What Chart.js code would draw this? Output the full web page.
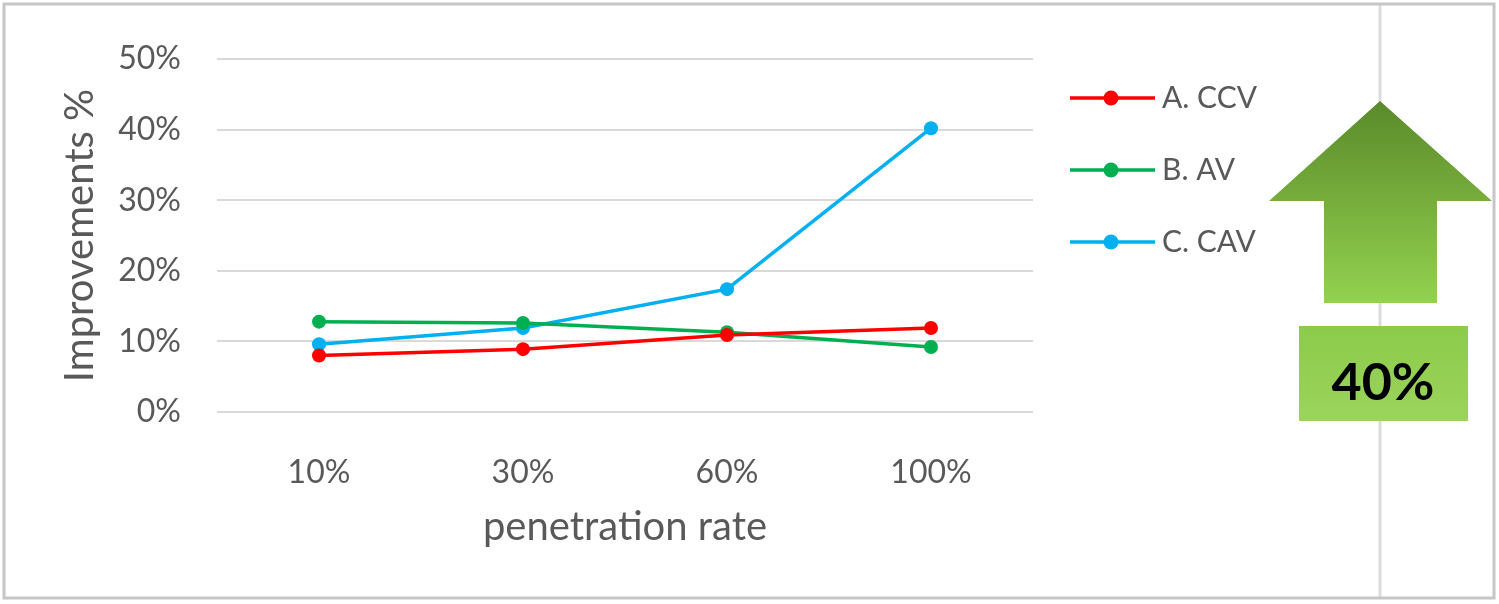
<!DOCTYPE html>
<html>
<head>
<meta charset="utf-8">
<script src="https://cdn.jsdelivr.net/npm/chart.js@4.4.0/dist/chart.umd.min.js"></script>
<style>
  body { margin: 0; background: #fff; }
  canvas { display: block; }
</style>
</head>
<body>
<canvas id="grafico" width="1499" height="604"></canvas>
<script>
// datos
const categorias = ['10%', '30%', '60%', '100%'];
const serieCCV = [8.0, 8.9, 10.9, 11.9];
const serieAV = [12.8, 12.6, 11.3, 9.2];
const serieCAV = [9.6, 11.9, 17.4, 40.2];
const nombresSeries = ['A. CCV', 'B. AV', 'C. CAV'];
const coloresSeries = ['#ff0000', '#00b050', '#00b0f0'];
const ticksY = ['0%', '10%', '20%', '30%', '40%', '50%'];
const textoMejora = '40%';

const fuente = 'Lato, "Open Sans", sans-serif';
const gris = '#595959';

function armarSerie(nombre, datos, color){
    return {
        label: nombre,
        data: datos,
        borderColor: color,
        backgroundColor: color,
        borderWidth: 3.5,
        pointRadius: 7,
        pointHoverRadius: 7,
        pointBorderWidth: 0,
        tension: 0
    };
}

// marco, linea vertical, leyenda y flecha
const decoracion = {
    id: 'decoracion',
    beforeDraw(chart){
        const ctx = chart.ctx;
        ctx.save();
        ctx.fillStyle = '#fff';
        ctx.fillRect(0, 0, chart.width, chart.height);
        ctx.strokeStyle = '#dcdcdc';
        ctx.lineWidth = 3;
        ctx.beginPath();
        ctx.moveTo(1380, 5);
        ctx.lineTo(1380, 597);
        ctx.stroke();
        ctx.strokeStyle = '#c6c6c6';
        ctx.lineWidth = 3;
        ctx.strokeRect(4, 4, 1490, 594);
        ctx.restore();
    },
    afterDraw(chart){
        const ctx = chart.ctx;
        ctx.save();
        // leyenda
        chart.data.datasets.forEach((ds, i) => {
            const y = 98 + i * 72;
            ctx.strokeStyle = ds.borderColor;
            ctx.lineWidth = 3.5;
            ctx.beginPath();
            ctx.moveTo(1070, y);
            ctx.lineTo(1155, y);
            ctx.stroke();
            ctx.fillStyle = ds.borderColor;
            ctx.beginPath();
            ctx.arc(1111, y, 7.5, 0, Math.PI * 2);
            ctx.fill();
            ctx.fillStyle = gris;
            ctx.font = '30px ' + fuente;
            ctx.textBaseline = 'middle';
            ctx.textAlign = 'left';
            ctx.fillText(ds.label, 1162, y);
        });
        // flecha
        const grad = ctx.createLinearGradient(0, 101, 0, 303);
        grad.addColorStop(0, '#5a8a2a');
        grad.addColorStop(1, '#93d24f');
        ctx.fillStyle = grad;
        ctx.beginPath();
        ctx.moveTo(1380, 101);
        ctx.lineTo(1492, 201);
        ctx.lineTo(1437, 201);
        ctx.lineTo(1437, 303);
        ctx.lineTo(1324, 303);
        ctx.lineTo(1324, 201);
        ctx.lineTo(1269, 201);
        ctx.closePath();
        ctx.fill();
        // caja
        const gradCaja = ctx.createLinearGradient(0, 326, 0, 421);
        gradCaja.addColorStop(0, '#8ccb4a');
        gradCaja.addColorStop(1, '#9bd45c');
        ctx.fillStyle = gradCaja;
        ctx.fillRect(1299, 326, 169, 95);
        ctx.fillStyle = '#000';
        ctx.font = 'bold 52px ' + fuente;
        ctx.textAlign = 'center';
        ctx.textBaseline = 'middle';
        ctx.fillText(textoMejora, 1383, 383);
        ctx.restore();
    }
};

const grafico = document.querySelector('#grafico');
const configuracion = {
    type: 'line',
    data: {
        labels: categorias,
        datasets: [
            armarSerie(nombresSeries[0], serieCCV, coloresSeries[0]),
            armarSerie(nombresSeries[1], serieAV, coloresSeries[1]),
            armarSerie(nombresSeries[2], serieCAV, coloresSeries[2])
        ]
    },
    options: {
        responsive: false,
        animation: false,
        layout: { padding: { left: 30, top: 59, right: 466, bottom: 20 } },
        plugins: {
            legend: { display: false },
            tooltip: { enabled: false }
        },
        scales: {
            x: {
                offset: true,
                grid: { display: false },
                border: { display: false },
                ticks: { color: gris, font: { family: fuente, size: 32 }, padding: 33 },
                title: { display: true, text: 'penetration rate', color: gris, font: { family: fuente, size: 40 }, padding: 33 },
                afterFit(scale){ scale.height = 604 - 20 - 412; }
            },
            y: {
                min: 0,
                max: 50,
                ticks: {
                    stepSize: 10,
                    color: gris,
                    font: { family: fuente, size: 32 },
                    padding: 36,
                    callback: (v) => ticksY[Math.round(v / 10)]
                },
                grid: { color: '#d9d9d9', lineWidth: 2, drawTicks: false },
                border: { display: false },
                title: { display: true, text: 'Improvements %', color: gris, font: { family: fuente, size: 40 }, padding: 26 },
                afterFit(scale){ scale.width = 217 - 30; }
            }
        }
    },
    plugins: [decoracion]
};

new Chart(grafico, configuracion);
</script>
</body>
</html>
